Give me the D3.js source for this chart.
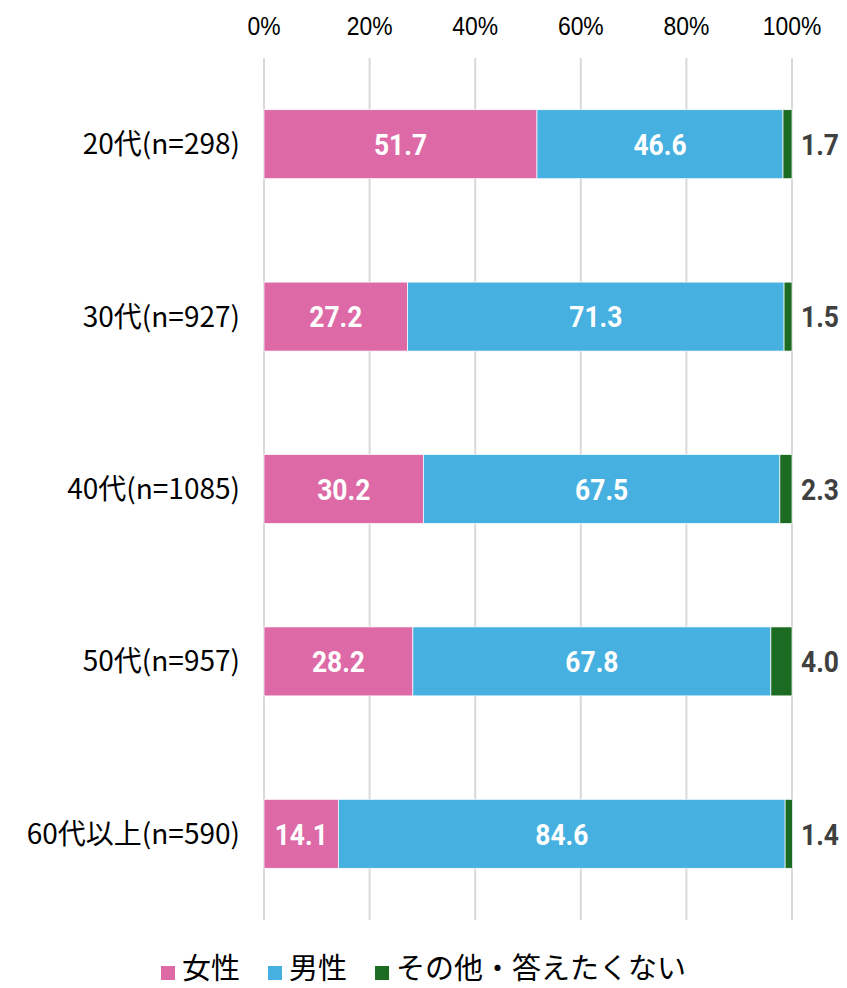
<!DOCTYPE html>
<html lang="ja">
<head>
<meta charset="utf-8">
<title>年代別 性別構成</title>
<script src="https://cdn.jsdelivr.net/npm/d3@7"></script>
<style>
  body { margin: 0; background: #fff; }
  .tick-label { font: 26px "Liberation Sans", sans-serif; fill: #000; }
  .cat-label { font: 28px "Noto Sans CJK JP", sans-serif; fill: #000; }
  .in-label { font: bold 30px "Roboto", sans-serif; fill: #fff; }
  .out-label { font: bold 30px "Roboto", sans-serif; fill: #404040; }
  .legend text { font: 29px "Noto Sans CJK JP", sans-serif; fill: #000; }
</style>
</head>
<body>
<script>
// data
var categories = ["20代(n=298)", "30代(n=927)", "40代(n=1085)", "50代(n=957)", "60代以上(n=590)"];
var seriesNames = ["女性", "男性", "その他・答えたくない"];
var female = [51.7, 27.2, 30.2, 28.2, 14.1];
var male = [46.6, 71.3, 67.5, 67.8, 84.6];
var other = [1.7, 1.5, 2.3, 4.0, 1.4];
var ticks = [0, 20, 40, 60, 80, 100];
var colors = ["#dd6aa7", "#46b0e0", "#1c6b23"];

var width = 847, height = 988;
var margin = {top: 58, right: 55, bottom: 68, left: 264};
var narrow = 0.88; // squeeze numbers sideways, the original font is condensed

var svg = d3.select("body").append("svg")
  .attr("width", width)
  .attr("height", height);

var x = d3.scaleLinear().domain([0, 100]).range([margin.left, width - margin.right]);
var y = d3.scaleBand().domain(categories)
  .range([margin.top, height - margin.bottom])
  .paddingInner(0.6).paddingOuter(0.3);

// helper: put text at (px,py) but squeezed horizontally
function squeeze(sel, px, py) {
  sel.attr("transform", function(d, i) {
    return "translate(" + px(d, i) + "," + py(d, i) + ") scale(" + narrow + ",1)";
  });
}

// gridlines
svg.append("g").selectAll("line")
  .data(ticks).enter().append("line")
  .attr("x1", function(d) { return x(d); })
  .attr("x2", function(d) { return x(d); })
  .attr("y1", margin.top)
  .attr("y2", height - margin.bottom)
  .attr("stroke", "#d9d9d9")
  .attr("stroke-width", 2);

// top axis labels
svg.append("g").selectAll("text")
  .data(ticks).enter().append("text")
  .attr("class", "tick-label")
  .attr("text-anchor", "middle")
  .call(squeeze, function(d) { return x(d); }, function() { return 35; })
  .text(function(d) { return d + "%"; });

// stack the three series
var rows = categories.map(function(c, i) {
  return {cat: c, f: female[i], m: male[i], o: other[i]};
});
var stack = d3.stack().keys(["f", "m", "o"]);
var layers = stack(rows);

var g = svg.append("g").selectAll("g")
  .data(layers).enter().append("g")
  .attr("fill", function(d, i) { return colors[i]; });

g.selectAll("rect")
  .data(function(d) { return d; }).enter().append("rect")
  .attr("x", function(d) { return x(d[0]); })
  .attr("width", function(d) { return x(d[1]) - x(d[0]); })
  .attr("y", function(d) { return y(d.data.cat); })
  .attr("height", y.bandwidth())
  .attr("stroke", "#fff")
  .attr("stroke-width", 0.7);

function midY(d) { return y(d.data.cat) + y.bandwidth() / 2; }

// labels inside for the first two series
layers.slice(0, 2).forEach(function(layer) {
  svg.append("g").selectAll("text")
    .data(layer).enter().append("text")
    .attr("class", "in-label")
    .attr("dy", "0.36em")
    .attr("text-anchor", "middle")
    .call(squeeze, function(d) { return (x(d[0]) + x(d[1])) / 2; }, midY)
    .text(function(d) { return d3.format(".1f")(d[1] - d[0]); });
});

// labels outside for the last series
svg.append("g").selectAll("text")
  .data(layers[2]).enter().append("text")
  .attr("class", "out-label")
  .attr("dy", "0.36em")
  .call(squeeze, function() { return x(100) + 9; }, midY)
  .text(function(d) { return d3.format(".1f")(d[1] - d[0]); });

// category labels
svg.append("g").selectAll("text")
  .data(categories).enter().append("text")
  .attr("class", "cat-label")
  .attr("x", 240)
  .attr("y", function(d) { return y(d) + y.bandwidth() / 2; })
  .attr("dy", "0.36em")
  .attr("text-anchor", "end")
  .text(function(d) { return d; });

// legend
var legend = svg.append("g").attr("class", "legend");
var lx = 161;
seriesNames.forEach(function(name, i) {
  legend.append("rect")
    .attr("x", lx).attr("y", 966)
    .attr("width", 14).attr("height", 14)
    .attr("fill", colors[i]);
  var t = legend.append("text")
    .attr("x", lx + 21).attr("y", 969)
    .attr("dy", "0.36em")
    .text(name);
  lx += 21 + t.node().getComputedTextLength() + 28;
});
</script>
</body>
</html>
